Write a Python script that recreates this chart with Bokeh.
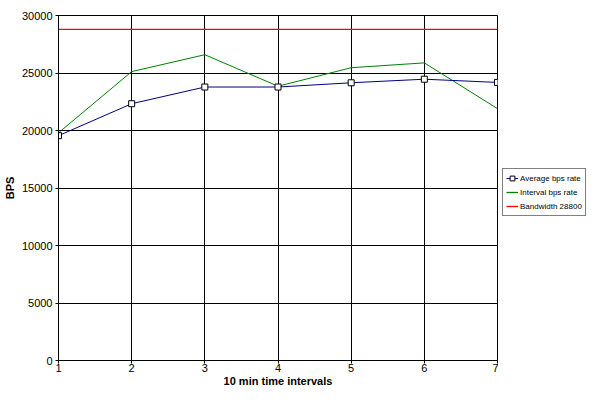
from bokeh.plotting import figure
from bokeh.layouts import row
from bokeh.models import Legend, LegendItem, Range1d, FixedTicker, ColumnDataSource
from bokeh.embed import file_html
from bokeh.resources import INLINE

intervals = [1, 2, 3, 4, 5, 6, 7]
average_bps = [19550, 22330, 23780, 23780, 24150, 24460, 24180]
interval_bps = [19800, 25120, 26590, 23850, 25460, 25880, 21900]
bandwidth = [28800] * 7
y_ticks = [0, 5000, 10000, 15000, 20000, 25000, 30000]
series_labels = ["Average bps rate", "Interval bps rate", "Bandwidth 28800"]

FONT = "Liberation Sans"

p = figure(width=498, height=389, output_backend="svg", toolbar_location=None,
           x_range=Range1d(1, 7), y_range=Range1d(0, 30000),
           min_border_left=58, min_border_right=1, min_border_top=15, min_border_bottom=27)

p.background_fill_color = "white"
p.border_fill_color = "white"
p.outline_line_color = "black"
p.outline_line_width = 1

for ax in (p.xaxis[0], p.yaxis[0]):
    ax.axis_line_color = "black"
    ax.major_tick_line_color = "black"
    ax.minor_tick_line_color = None
    ax.major_tick_out = 3
    ax.major_tick_in = 3
    ax.major_label_text_font = FONT
    ax.major_label_text_font_size = "11px"
    ax.major_label_text_color = "black"
    ax.axis_label_text_font = FONT
    ax.axis_label_text_font_size = "11px"
    ax.axis_label_text_font_style = "bold"
    ax.axis_label_text_color = "black"

p.xaxis.ticker = FixedTicker(ticks=intervals)
p.yaxis.ticker = FixedTicker(ticks=y_ticks)
p.xaxis.axis_label = "10 min time intervals"
p.yaxis.axis_label = "BPS"
p.xaxis.axis_label_standoff = 0
p.yaxis.axis_label_standoff = 3
p.xaxis.major_label_standoff = 0
p.yaxis.major_label_standoff = 3

p.xgrid.grid_line_color = "black"
p.ygrid.grid_line_color = "black"

src = ColumnDataSource(dict(x=intervals, avg=average_bps, itv=interval_bps, bw=bandwidth))

p.line("x", "bw", source=src, line_color="#FF0000", line_width=1.2)
p.line("x", "itv", source=src, line_color="#008000", line_width=1)
p.line("x", "avg", source=src, line_color="#000080", line_width=1)
p.scatter("x", "avg", source=src, marker="square", size=6,
          fill_color="white", line_color="black", line_width=1)

# legend panel: same series drawn in a view that excludes them, so only the legend shows
q = figure(width=92, height=389, output_backend="svg", toolbar_location=None,
           x_range=Range1d(-2, -1), y_range=Range1d(-2, -1),
           min_border_left=0, min_border_right=0, min_border_top=0, min_border_bottom=0)
q.axis.visible = False
q.grid.visible = False
q.outline_line_color = None
q.background_fill_color = "white"
q.border_fill_color = "white"

l_avg = q.line("x", "avg", source=src, line_color="#000080", line_width=1)
l_avg_m = q.scatter("x", "avg", source=src, marker="square", size=5,
                    fill_color="white", line_color="black")
l_itv = q.line("x", "itv", source=src, line_color="#008000", line_width=1.3)
l_bw = q.line("x", "bw", source=src, line_color="#FF0000", line_width=1.3)

legend = Legend(items=[
    LegendItem(label=series_labels[0], renderers=[l_avg, l_avg_m]),
    LegendItem(label=series_labels[1], renderers=[l_itv]),
    LegendItem(label=series_labels[2], renderers=[l_bw]),
], location=(4, 144))
legend.label_text_font = FONT
legend.label_text_font_size = "8px"
legend.label_text_color = "black"
legend.label_height = 12
legend.glyph_width = 12
legend.glyph_height = 12
legend.label_standoff = 2
legend.spacing = 2
legend.padding = 3
legend.margin = 0
legend.border_line_color = "black"
legend.border_line_width = 1
legend.background_fill_color = "white"
legend.background_fill_alpha = 1
q.add_layout(legend, "center")

layout = row(p, q, spacing=0)
open("out.html", "w").write(file_html(layout, INLINE))
